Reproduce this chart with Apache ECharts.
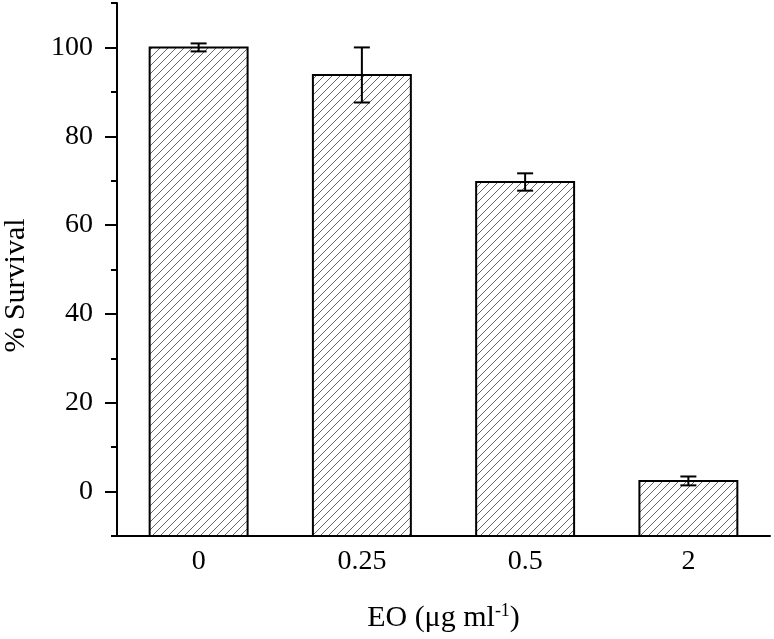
<!DOCTYPE html>
<html>
<head>
<meta charset="utf-8">
<script src="https://cdn.jsdelivr.net/npm/echarts@6/dist/echarts.min.js"></script>
<style>html,body{margin:0;padding:0;background:#fff}#c{width:774px;height:639px}</style>
</head>
<body>
<div id="c"></div>
<script>
var categories = ['0', '0.25', '0.5', '2'];
var survival = [100.0, 93.8, 69.7, 2.4];
var errors = [0.9, 6.2, 1.95, 1.0];
var yRange = [-10, 110];
var majorTicks = [0, 20, 40, 60, 80, 100];
var minorTicks = [-10, 10, 30, 50, 70, 90, 110];

var FONT = '"Liberation Serif", "Times New Roman", serif';

function hatch() {
  var s = 8;
  var c = document.createElement('canvas');
  c.width = s; c.height = s;
  var g = c.getContext('2d');
  g.fillStyle = '#fff';
  g.fillRect(0, 0, s, s);
  g.strokeStyle = '#666';
  g.lineWidth = 1;
  g.beginPath();
  g.moveTo(0, s); g.lineTo(s, 0);
  g.moveTo(-s / 2, s / 2); g.lineTo(s / 2, -s / 2);
  g.moveTo(s / 2, s * 1.5); g.lineTo(s * 1.5, s / 2);
  g.stroke();
  return c;
}
var pattern = {image: hatch(), repeat: 'repeat'};

var chart = echarts.init(document.getElementById('c'), null, {renderer: 'canvas'});
var barData = categories.map(function (c, i) { return [i, survival[i]]; });
var errData = categories.map(function (c, i) { return [i, survival[i] - errors[i], survival[i] + errors[i]]; });

chart.setOption({
  animation: false,
  backgroundColor: '#fff',
  grid: {left: 117, right: 4, top: 3, bottom: 103, containLabel: false, outerBoundsMode: 'none'},
  xAxis: {
    type: 'category',
    data: categories,
    axisLine: {onZero: false, lineStyle: {color: '#000', width: 2}},
    axisTick: {show: false},
    axisLabel: {color: '#000', fontFamily: FONT, fontSize: 28, margin: 12},
    name: 'EO (μg ml{sup|-1})',
    nameLocation: 'middle',
    nameGap: 66,
    nameTextStyle: {
      color: '#000', fontFamily: FONT, fontSize: 30,
      rich: {sup: {fontFamily: FONT, fontSize: 18, color: '#000', verticalAlign: 'top', padding: [0, 0, 14, 0]}}
    }
  },
  yAxis: [{
    type: 'value',
    min: yRange[0], max: yRange[1],
    splitLine: {show: false},
    axisLine: {show: true, onZero: false, lineStyle: {color: '#000', width: 2}},
    axisTick: {show: true, customValues: majorTicks, length: 12, lineStyle: {color: '#000', width: 2}},
    axisLabel: {customValues: majorTicks, color: '#000', fontFamily: FONT, fontSize: 28, margin: 24},
    name: '% Survival',
    nameLocation: 'middle',
    nameGap: 86,
    nameTextStyle: {color: '#000', fontFamily: FONT, fontSize: 30, padding: [0, 32, 0, 0]}
  }, {
    type: 'value',
    position: 'left',
    min: yRange[0], max: yRange[1],
    splitLine: {show: false},
    axisLine: {show: false, onZero: false},
    axisTick: {show: true, customValues: minorTicks, length: 6, lineStyle: {color: '#000', width: 2}},
    axisLabel: {show: false}
  }],
  series: [{
    type: 'custom',
    data: barData,
    z: 2,
    renderItem: function (params, api) {
      var i = api.value(0);
      var top = api.coord([i, api.value(1)]);
      var base = api.coord([i, yRange[0]]);
      var w = api.size([1, 0])[0] * 0.6;
      return {
        type: 'rect',
        shape: {x: top[0] - w / 2, y: top[1], width: w, height: base[1] - top[1]},
        style: {fill: pattern, stroke: '#000', lineWidth: 2}
      };
    }
  }, {
    type: 'custom',
    data: errData,
    z: 3,
    renderItem: function (params, api) {
      var x = api.value(0);
      var lo = api.coord([x, api.value(1)]);
      var hi = api.coord([x, api.value(2)]);
      var w = 8;
      var st = {stroke: '#000', lineWidth: 2};
      return {
        type: 'group',
        children: [
          {type: 'line', shape: {x1: lo[0], y1: lo[1], x2: hi[0], y2: hi[1]}, style: st},
          {type: 'line', shape: {x1: lo[0] - w, y1: lo[1], x2: lo[0] + w, y2: lo[1]}, style: st},
          {type: 'line', shape: {x1: hi[0] - w, y1: hi[1], x2: hi[0] + w, y2: hi[1]}, style: st}
        ]
      };
    }
  }]
});
</script>
</body>
</html>
